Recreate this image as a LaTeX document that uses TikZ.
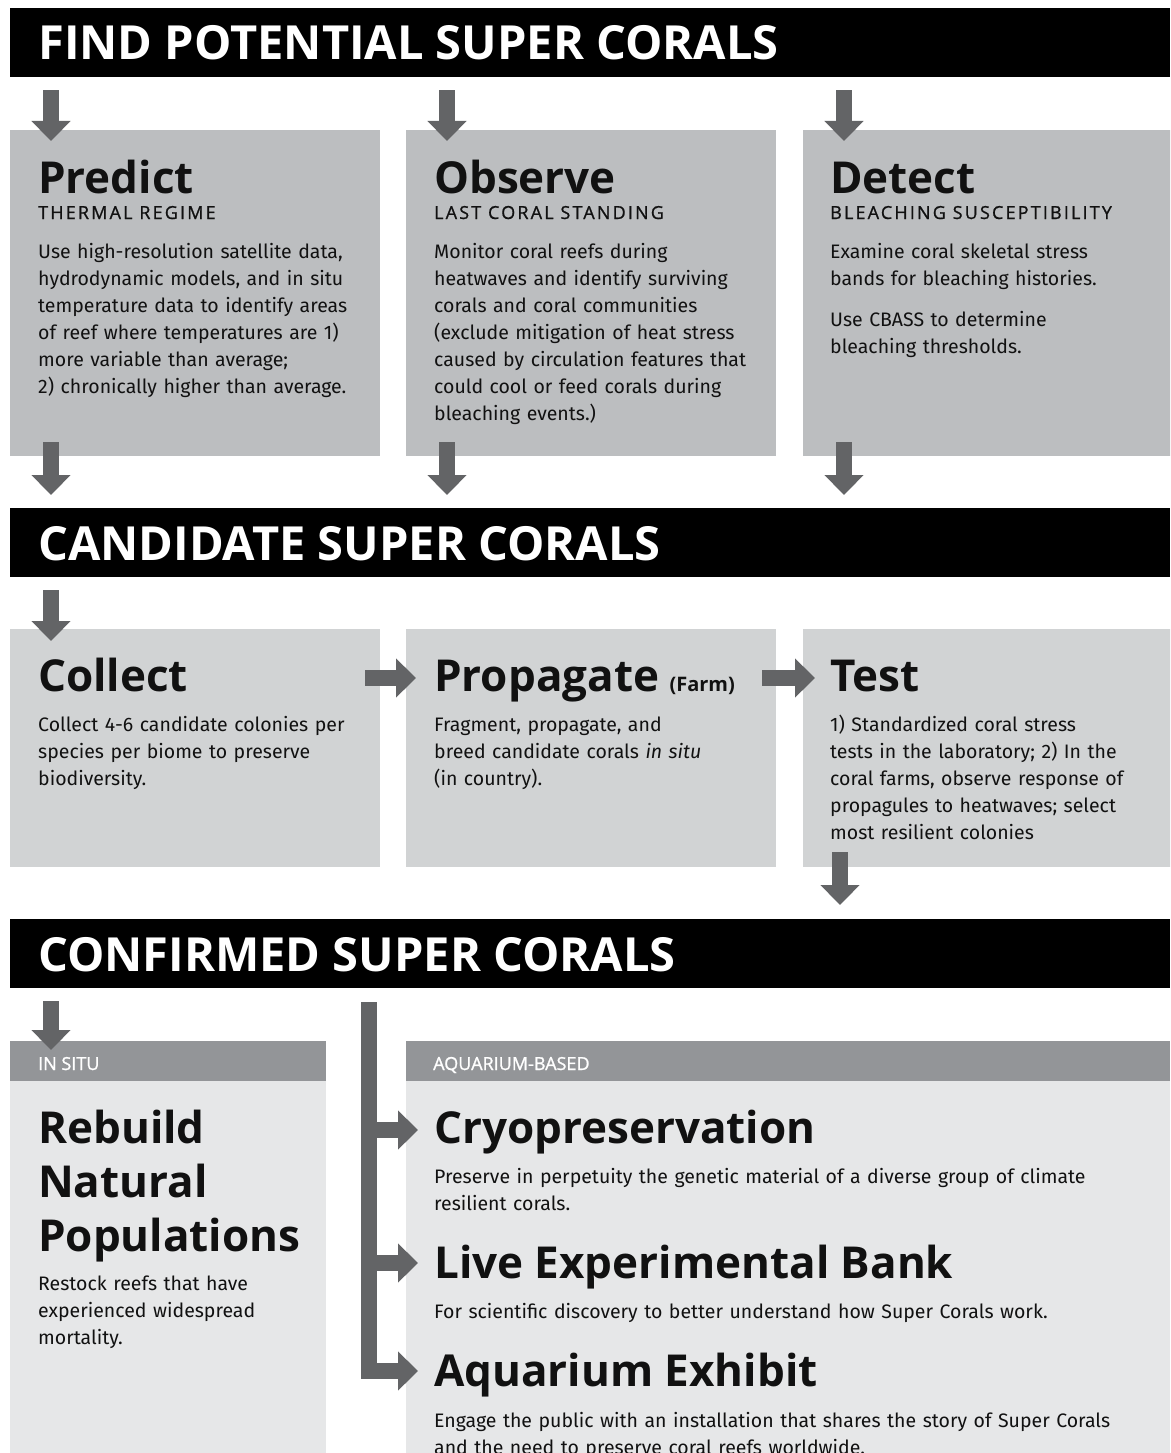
\documentclass[tikz,border=0pt]{standalone}
\usepackage{fontspec}
\setmainfont{Fira Sans}
\newfontfamily\headfont{Open Sans}
\usetikzlibrary{arrows.meta,positioning,calc}
\definecolor{cInk}{HTML}{111111}
\definecolor{cArrow}{HTML}{636466}
\definecolor{cRowA}{HTML}{BCBEC0}
\definecolor{cRowB}{HTML}{D1D3D4}
\definecolor{cRowC}{HTML}{E6E7E8}
\definecolor{cStrip}{HTML}{939598}
\tikzset{
  >={Triangle[width=38pt,length=20pt]},
  band/.style ={fill=black,anchor=north west,inner sep=0pt,minimum width=1160pt,minimum height=69pt},
  bandtxt/.style={text=white,anchor=base west,inner sep=0pt,font=\headfont\bfseries\fontsize{47}{47}\selectfont},
  stage/.style={anchor=north west,inner sep=0pt,minimum width=370pt},
  strip/.style={anchor=north west,inner sep=0pt,fill=cStrip,minimum height=40pt},
  striptxt/.style={text=white,anchor=base west,inner sep=0pt,font=\headfont\fontsize{18}{18}\selectfont\addfontfeatures{FakeBold=1.2}},
  ttl/.style ={text=cInk,anchor=base west,inner sep=0pt,font=\headfont\bfseries\fontsize{44}{54}\selectfont,align=left},
  sub/.style ={text=cInk,anchor=base west,inner sep=0pt,font=\headfont\fontsize{18}{18}\selectfont\addfontfeatures{LetterSpace=12,FakeBold=1}},
  body/.style={text=cInk,anchor=base west,inner sep=0pt,font=\fontsize{19.5}{27}\selectfont,align=left},
  flow/.style={draw=cArrow,line width=16pt,->},
}

\begin{document}
\begin{tikzpicture}[x=1pt,y=-1pt]
\useasboundingbox (0,0) rectangle (1170,1453);
\clip (0,0) rectangle (1170,1453);

% stage 1: find
\node[band] (findband) at (10,8) {};
\node[bandtxt] at (38,60) {FIND POTENTIAL SUPER CORALS};
\node[stage,fill=cRowA,minimum height=326pt] (predict) at (10,130) {};
\node[stage,fill=cRowA,minimum height=326pt] (observe) at (406,130) {};
\node[stage,fill=cRowA,minimum height=326pt] (detect)  at (803,130) {};

\node[ttl] at (38,193)  {Predict};
\node[sub] at (38,219)  {THERMAL REGIME};
\node[body,text width=335pt] at (38,258)
 {Use high-resolution satellite data,\\hydrodynamic models, and in situ\\temperature data to identify areas\\of reef where temperatures are 1)\\more variable than average;\\2) chronically higher than average.};

\node[ttl] at (434,193) {Observe};
\node[sub] at (434,219) {LAST CORAL STANDING};
\node[body,text width=335pt] at (434,258)
 {Monitor coral reefs during\\heatwaves and identify surviving\\corals and coral communities\\(exclude mitigation of heat stress\\caused by circulation features that\\could cool or feed corals during\\bleaching events.)};

\node[ttl] at (830,193) {Detect};
\node[sub] at (830,219) {BLEACHING SUSCEPTIBILITY};
\node[body,text width=335pt] at (830,258)
 {Examine coral skeletal stress\\bands for bleaching histories.\\[14pt]Use CBASS to determine\\bleaching thresholds.};

% stage 2: candidates
\node[band] (candband) at (10,508) {};
\node[bandtxt] at (38,560) {CANDIDATE SUPER CORALS};
\node[stage,fill=cRowB,minimum height=238pt] (collect)   at (10,629) {};
\node[stage,fill=cRowB,minimum height=238pt] (propagate) at (406,629) {};
\node[stage,fill=cRowB,minimum height=238pt] (test)      at (803,629) {};

\node[ttl] at (38,691) {Collect};
\node[body,text width=335pt] at (38,731)
 {Collect 4-6 candidate colonies per\\species per biome to preserve\\biodiversity.};

\node[ttl] (proptitle) at (434,691) {Propagate};
\node[text=cInk,inner sep=0pt,font=\headfont\bfseries\fontsize{20}{20}\selectfont,
      right=10pt of proptitle.base east,anchor=base west] {(Farm)};
\node[body,text width=335pt] at (434,731)
 {Fragment, propagate, and\\breed candidate corals \textit{in situ}\\(in country).};

\node[ttl] at (830,691) {Test};
\node[body,text width=335pt] at (830,731)
 {1) Standardized coral stress\\tests in the laboratory; 2) In the\\coral farms, observe response of\\propagules to heatwaves; select\\most resilient colonies};

% stage 3: confirmed
\node[band] (confband) at (10,919) {};
\node[bandtxt] at (38,971) {CONFIRMED SUPER CORALS};
\node[strip,minimum width=316pt] (insitu) at (10,1041) {};
\node[stage,fill=cRowC,minimum width=316pt,minimum height=380pt] (rebuild) at (10,1081) {};
\node[strip,minimum width=764pt] (aqbased) at (406,1041) {};
\node[stage,fill=cRowC,minimum width=764pt,minimum height=380pt] (aquarium) at (406,1081) {};
\node[striptxt] at (38,1070)  {IN SITU};
\node[striptxt] at (433,1070) {AQUARIUM-BASED};

% three-line title: base sits on the last line
\node[ttl] at (38,1251) {Rebuild\\Natural\\Populations};
\node[body,text width=285pt] at (38,1290)
 {Restock reefs that have\\experienced widespread\\mortality.};

\node[ttl] (cryo) at (434,1143) {Cryopreservation};
\node[body,text width=730pt] at (434,1183)
 {Preserve in perpetuity the genetic material of a diverse group of climate\\resilient corals.};
\node[ttl] (livebank) at (434,1278) {Live Experimental Bank};
\node[body,text width=730pt] at (434,1318)
 {For scientific discovery to better understand how Super Corals work.};
\node[ttl] (exhibit) at (434,1386) {Aquarium Exhibit};
\node[body,text width=730pt] at (434,1427)
 {Engage the public with an installation that shares the story of Super Corals\\and the need to preserve coral reefs worldwide.};

% arrows
\foreach \b in {predict,observe,detect}{
  \draw[flow] ($(findband.south west -| \b.west)+(41,13)$) -- ($(\b.north west)+(41,11)$);
  \draw[flow] ($(\b.south west)+(41,-14)$) -- ($(candband.north west -| \b.west)+(41,-13)$);
}
\draw[flow] ($(candband.south west)+(41,13)$) -- ($(collect.north west)+(41,12)$);
\draw[flow] ($(collect.north east)+(-15,49)$) -- ($(propagate.north west)+(10,49)$);
\draw[flow] ($(propagate.north east)+(-14,49)$) -- ($(test.north west)+(12,49)$);
\draw[flow] ($(test.south west)+(37,-15)$) -- ($(confband.north west -| test.west)+(37,-14)$);
\draw[flow] ($(confband.south west)+(41,13)$) -- ($(insitu.north west)+(41,9)$);

% bracket to the aquarium branches
\coordinate (trunk) at ($(confband.south west)+(359,14)$);
\draw[flow,-] (trunk) -- (trunk |- 0,1130);
\draw[flow] (trunk |- 0,1130) -- (418,1130);
\draw[flow] (trunk |- 0,1263) -- (418,1263);
\draw[flow] (trunk) -- (trunk |- 0,1371) -- (418,1371);
\end{tikzpicture}
\end{document}
